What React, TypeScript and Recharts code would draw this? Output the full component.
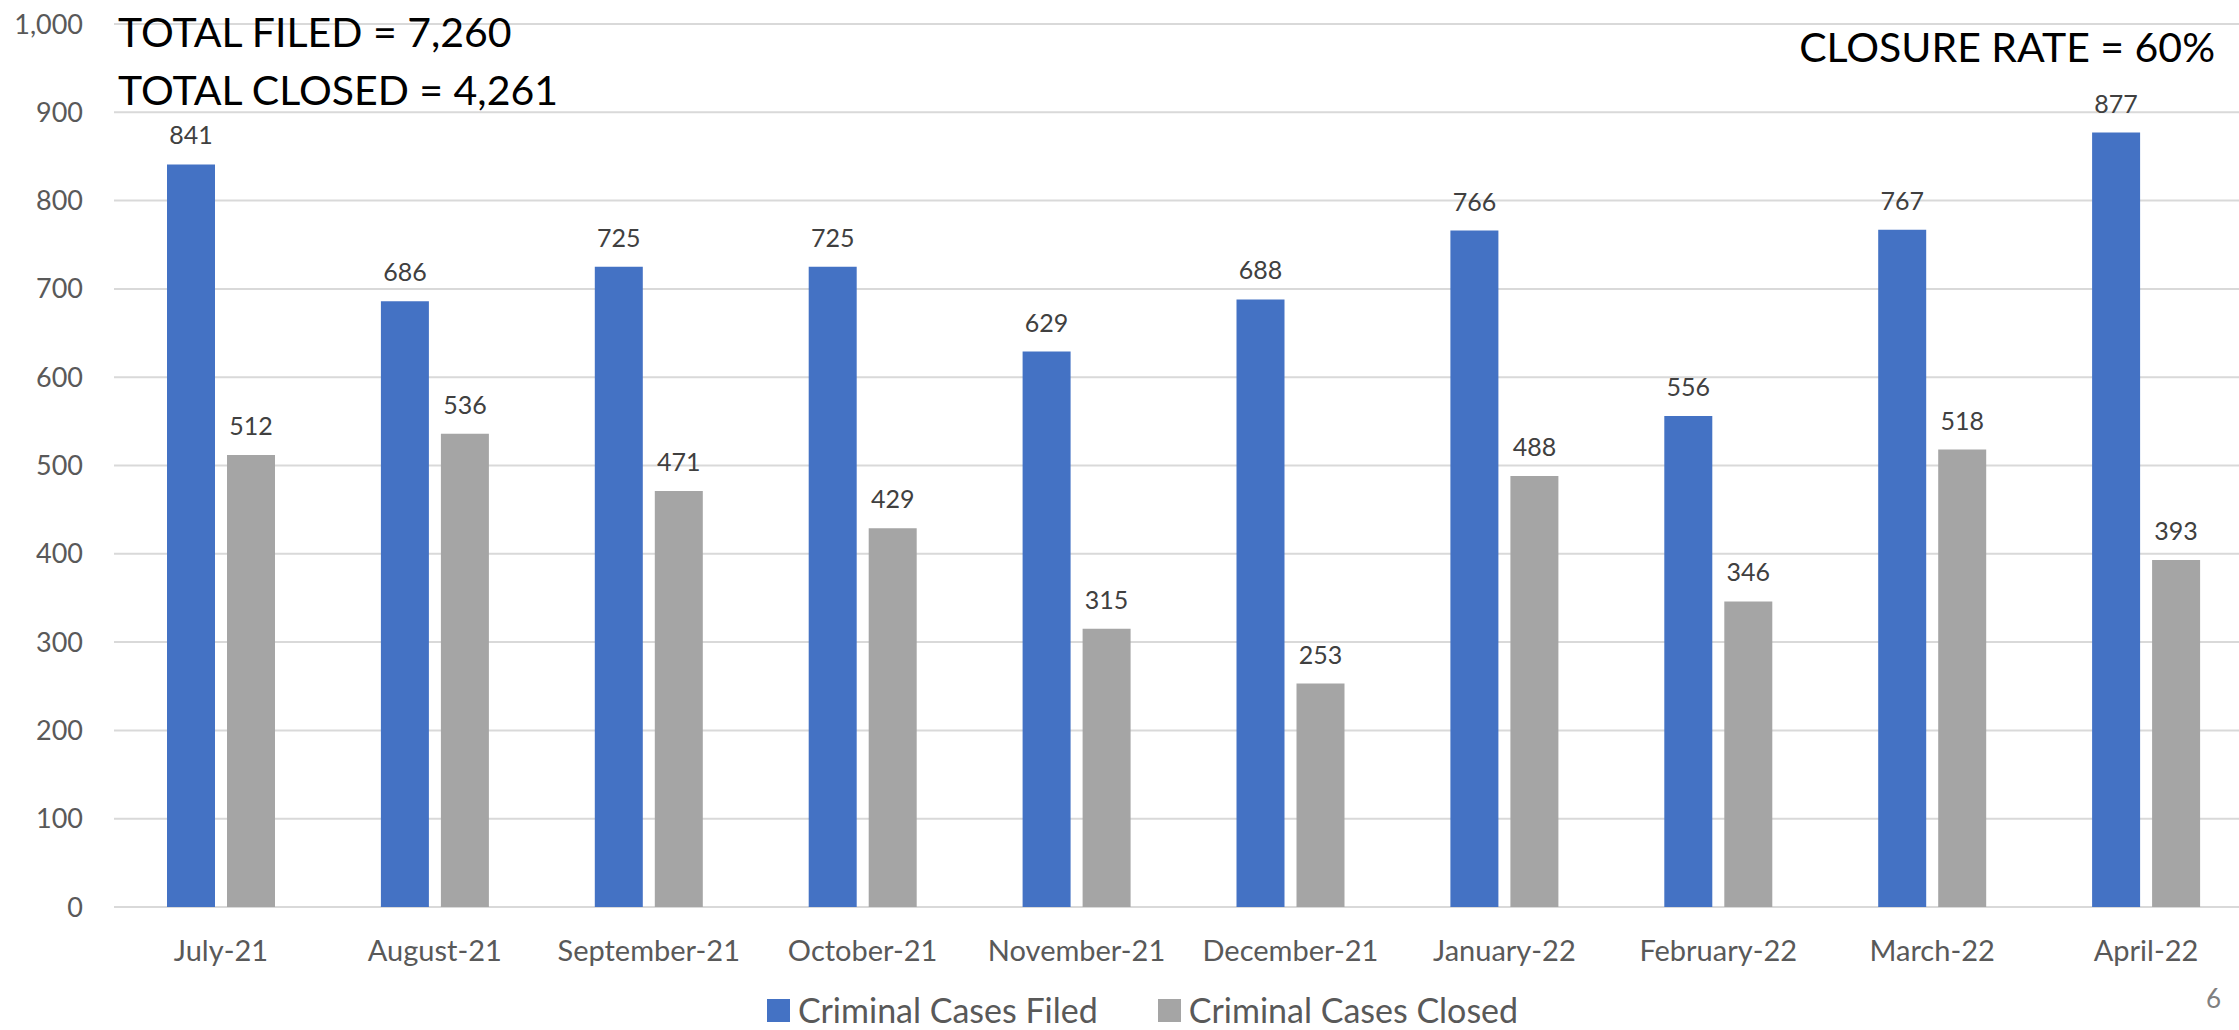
import { Bar, BarChart, CartesianGrid, LabelList, Legend, XAxis, YAxis } from 'recharts';

const months = [
  'July-21',
  'August-21',
  'September-21',
  'October-21',
  'November-21',
  'December-21',
  'January-22',
  'February-22',
  'March-22',
  'April-22',
];
const casesFiled = [841, 686, 725, 725, 629, 688, 766, 556, 767, 877];
const casesClosed = [512, 536, 471, 429, 315, 253, 488, 346, 518, 393];
const yTicks = [0, 100, 200, 300, 400, 500, 600, 700, 800, 900, 1000];
const seriesNames = ['Criminal Cases Filed', 'Criminal Cases Closed'];

const BLUE = '#4472C4';
const GREY = '#A5A5A5';
const FONT = 'Lato, "Noto Sans", sans-serif';

const data = months.map((month, i) => ({
  month,
  filed: casesFiled[i],
  closed: casesClosed[i],
}));

function LegendContent({ payload }: any) {
  // keep series order (legend sorts by name otherwise)
  const items = [...(payload || [])].sort(
    (a: any, b: any) => seriesNames.indexOf(a.value) - seriesNames.indexOf(b.value)
  );
  return (
    <div
      style={{
        display: 'flex',
        justifyContent: 'center',
        alignItems: 'center',
        gap: 60,
        paddingLeft: 32,
        height: 40,
      }}
    >
      {items.map((entry: any) => (
        <div key={entry.value} style={{ display: 'flex', alignItems: 'center' }}>
          <span style={{ width: 23, height: 23, background: entry.color, marginRight: 8, display: 'inline-block' }} />
          <span style={{ fontSize: 34, color: '#595959', lineHeight: '40px' }}>{entry.value}</span>
        </div>
      ))}
    </div>
  );
}

export default function App() {
  return (
    <div
      style={{
        position: 'fixed',
        top: 0,
        left: 0,
        width: 2239,
        height: 1030,
        overflow: 'hidden',
        background: '#fff',
        fontFamily: FONT,
      }}
    >
      <BarChart
        width={2253}
        height={1030}
        data={data}
        margin={{ top: 24, right: 0, bottom: 0, left: 0 }}
        barSize={48}
        barGap={12}
      >
        <CartesianGrid vertical={false} stroke="#d9d9d9" strokeWidth={2} />
        <XAxis
          dataKey="month"
          interval={0}
          height={83}
          axisLine={false}
          tickLine={false}
          tickSize={0}
          tickMargin={33}
          tick={{ fill: '#595959', fontSize: 29 }}
        />
        <YAxis
          domain={[0, 1000]}
          ticks={yTicks}
          width={114}
          axisLine={false}
          tickLine={false}
          tickSize={0}
          tickMargin={31}
          tick={{ fill: '#595959', fontSize: 27 }}
          tickFormatter={(v: number) => v.toLocaleString('en-US')}
        />
        <Legend verticalAlign="bottom" height={40} content={<LegendContent />} />
        <Bar dataKey="filed" name={seriesNames[0]} fill={BLUE} isAnimationActive={false}>
          <LabelList dataKey="filed" position="top" offset={20} fill="#404040" fontSize={25} />
        </Bar>
        <Bar dataKey="closed" name={seriesNames[1]} fill={GREY} isAnimationActive={false}>
          <LabelList dataKey="closed" position="top" offset={20} fill="#404040" fontSize={25} />
        </Bar>
      </BarChart>

      {/* slide annotations */}
      <svg
        width={2239}
        height={1030}
        style={{ position: 'absolute', top: 0, left: 0, pointerEvents: 'none', fontFamily: FONT }}
      >
        <text x={118} y={47} fontSize={41} fill="#000">
          TOTAL FILED = 7,260
        </text>
        <text x={118} y={105} fontSize={41} fill="#000">
          TOTAL CLOSED = 4,261
        </text>
        <text x={2215} y={62} fontSize={41} fill="#000" textAnchor="end">
          CLOSURE RATE = 60%
        </text>
        <text x={2221} y={1008} fontSize={26} fill="#7f7f7f" textAnchor="end">
          6
        </text>
      </svg>
    </div>
  );
}
